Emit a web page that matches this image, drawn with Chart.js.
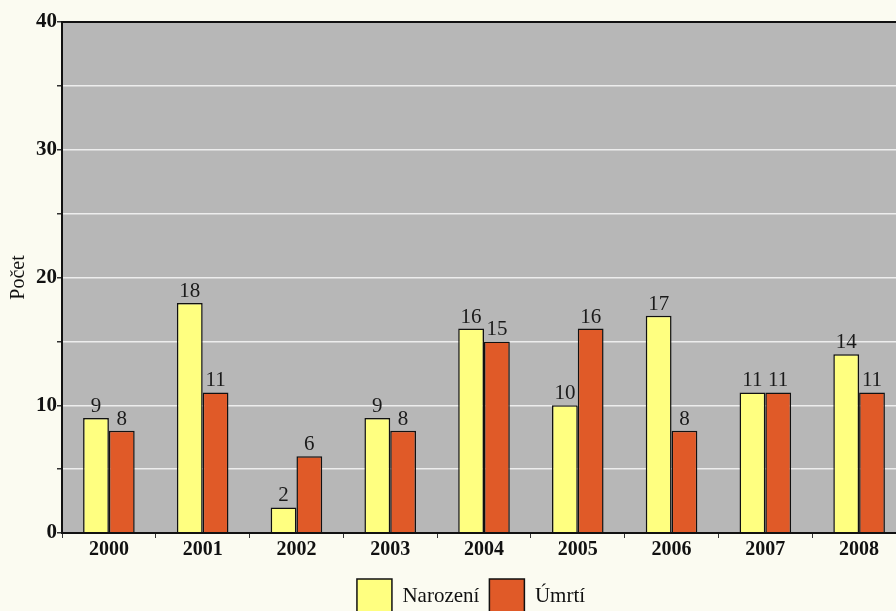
<!DOCTYPE html>
<html>
<head>
<meta charset="utf-8">
<script src="https://cdn.jsdelivr.net/npm/chart.js@4.4.0/dist/chart.umd.min.js"></script>
<style>
  html, body { margin: 0; padding: 0; background: #fbfbf1; overflow: hidden; }
  #wrap { width: 906px; height: 623px; }
</style>
</head>
<body>
<div id="wrap"><canvas id="barChart"></canvas></div>
<script>
const years = ['2000', '2001', '2002', '2003', '2004', '2005', '2006', '2007', '2008'];
const narozeni = [9, 18, 2, 9, 16, 10, 17, 11, 14];
const umrti = [8, 11, 6, 8, 15, 16, 8, 11, 11];
const yTicks = [0, 10, 20, 30, 40];

const serif = "'Liberation Serif', 'DejaVu Serif', serif";

// gray plot background + frame
const plotBackground = {
  id: 'plotBackground',
  beforeDraw(chart) {
    const { ctx, chartArea: a } = chart;
    ctx.save();
    ctx.fillStyle = '#b7b7b7';
    ctx.fillRect(a.left, a.top, a.right - a.left, a.bottom - a.top);
    ctx.restore();
  },
  afterDatasetsDraw(chart) {
    const { ctx, chartArea: a } = chart;
    ctx.save();
    ctx.strokeStyle = '#111';
    ctx.lineWidth = 2;
    ctx.beginPath();
    ctx.moveTo(a.right, a.top);
    ctx.lineTo(a.left, a.top);
    ctx.lineTo(a.left, a.bottom);
    ctx.lineTo(a.right, a.bottom);
    ctx.stroke();
    ctx.restore();
  }
};

// value labels above bars
const valueLabels = {
  id: 'valueLabels',
  afterDatasetsDraw(chart) {
    const { ctx } = chart;
    ctx.save();
    ctx.font = '21px ' + serif;
    ctx.fillStyle = '#1a1a1a';
    ctx.textAlign = 'center';
    ctx.textBaseline = 'alphabetic';
    chart.data.datasets.forEach((ds, i) => {
      chart.getDatasetMeta(i).data.forEach((bar, j) => {
        ctx.fillText(ds.data[j], bar.x, bar.y - 6);
      });
    });
    ctx.restore();
  }
};

// legend sits a bit right of the canvas centre in the original
const legendShift = {
  id: 'legendShift',
  afterLayout(chart) {
    chart.legend.left += 18;
    chart.legend.right += 18;
  }
};

new Chart(document.getElementById('barChart'), {
  type: 'bar',
  data: {
    labels: years,
    datasets: [
      {
        label: 'Narození',
        data: narozeni,
        backgroundColor: '#ffff80',
        borderColor: '#111',
        borderWidth: 1.5
      },
      {
        label: 'Úmrtí',
        data: umrti,
        backgroundColor: '#e05a28',
        borderColor: '#111',
        borderWidth: 1.5
      }
    ]
  },
  options: {
    responsive: true,
    maintainAspectRatio: false,
    animation: false,
    layout: { padding: { top: 22, right: 0, left: 0, bottom: 0 } },
    datasets: { bar: { barPercentage: 1, categoryPercentage: 0.55 } },
    scales: {
      x: {
        grid: { offset: true, drawOnChartArea: false, drawTicks: true, tickLength: 5, color: '#333' },
        border: { display: false },
        ticks: { color: '#111', font: { family: serif, size: 20, weight: 'bold' }, padding: 0 },
        afterFit(scale) { scale.height = 36; }
      },
      y: {
        min: 0,
        max: 40,
        afterBuildTicks(scale) {
          scale.ticks = [0, 5, 10, 15, 20, 25, 30, 35, 40].map(v => ({ value: v }));
        },
        grid: {
          color: 'rgba(255,255,255,0.75)',
          lineWidth: 1.5,
          tickLength: 5,
          tickColor: '#333'
        },
        border: { display: false },
        ticks: {
          color: '#111',
          font: { family: serif, size: 21, weight: 'bold' },
          padding: 0,
          callback: v => (yTicks.includes(v) ? v : '')
        },
        title: {
          display: true,
          text: 'Počet',
          color: '#111',
          font: { family: serif, size: 20 },
          padding: { top: 7, bottom: 0 }
        },
        afterFit(scale) { scale.width = 62; }
      }
    },
    plugins: {
      legend: {
        position: 'bottom',
        labels: {
          color: '#111',
          font: { family: serif, size: 21 },
          boxWidth: 35,
          boxHeight: 34,
          padding: 10,
          useBorderRadius: false
        }
      },
      tooltip: { enabled: false }
    }
  },
  plugins: [plotBackground, valueLabels, legendShift]
});
</script>
</body>
</html>
